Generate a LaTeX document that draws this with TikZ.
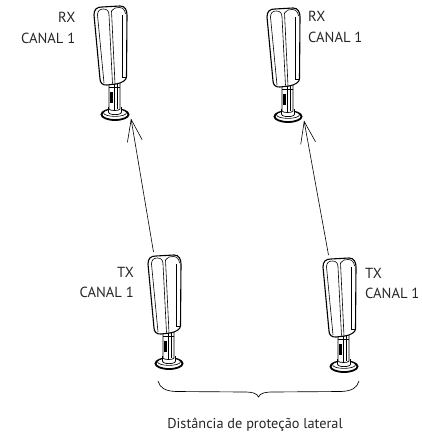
\documentclass[tikz,border=0pt]{standalone}
\usepackage{fontspec}
\setmainfont{PT Sans}
\usetikzlibrary{arrows.meta}
\tikzset{
  sensor/.pic={
    % base
    \draw[line width=1.8pt, fill=white] (21,108.5) ellipse[x radius=13.5, y radius=5.5];
    \draw[line width=0.6pt, fill=white] (21,106.8) ellipse[x radius=11.5, y radius=3.6];
    % collar
    \draw[line width=0.7pt, fill=white] (14.5,101) -- (14.5,106) .. controls (14.5,109.5) and (27.5,109.5) .. (27.5,106) -- (27.5,101);
    % pole
    \draw[line width=0.7pt, fill=white] (15,76) -- (15,103) .. controls (15,105) and (26,105) .. (26,103) -- (26,76);
    \draw[line width=0.55pt] (20.5,78) -- (20.5,103.5);
    \draw[line width=0.55pt] (23.5,78) -- (23.5,103);
    \fill (16,86) rectangle (18.8,97);
    \draw[line width=0.55pt] (15,81) -- (26,81);
    % housing
    \draw[line width=1.1pt, fill=white] (0,9) .. controls (0,3) and (3,1) .. (8,1) -- (26,0)
      .. controls (31,0) and (33,4) .. (33,9) -- (32.5,71)
      .. controls (32.5,74) and (28,77) .. (22,78) -- (13,79)
      .. controls (9,79.5) and (6,77) .. (6,73) -- cycle;
    \draw[line width=0.6pt] (3.5,9) .. controls (3.5,4.5) and (6,3) .. (9.5,3)
      .. controls (13,3) and (15,5) .. (15,9);
    \draw[line width=0.6pt] (3.5,9) -- (10,77);
    \draw[line width=0.6pt] (15,9) -- (18.5,77.5);
    \draw[line width=0.6pt] (17.5,5) -- (21,78);
    \draw[line width=0.6pt] (17.5,5) .. controls (19,2) and (22,1.5) .. (25,1.5)
      .. controls (29,1.5) and (31,4) .. (31.5,8);
    \draw[line width=0.6pt] (28.5,9) -- (28.5,71) -- (32.5,71);
    \coordinate (-top) at (5.5,-3);
    \coordinate (-aim) at (37,112.5);
  },
  lbl/.style={font=\fontsize{14.6}{20.5}\selectfont, inner sep=0pt, text=black!85},
  ray/.style={line width=0.6pt, -{Straight Barb[length=22pt,width=15pt,line width=0.6pt]}}
}
\begin{document}
\begin{tikzpicture}[x=1pt,y=-1pt]
  \useasboundingbox (0,0) rectangle (422,439);
  \pic (rxl) at (94,6) {sensor};
  \pic (rxr) at (267,8) {sensor};
  \pic (txl) at (148,255) {sensor};
  \pic (txr) at (323,258) {sensor};

  \node[lbl, align=right, anchor=base east] (lrxl) at (75.5,43) {RX\\CANAL 1};
  \node[lbl, align=left, anchor=base west] (lrxr) at (308,42) {RX\\CANAL 1};
  \node[lbl, align=right, anchor=base east] (ltxl) at (134,297.5) {TX\\CANAL 1};
  \node[lbl, align=left, anchor=base west] (ltxr) at (365,298.5) {TX\\CANAL 1};

  \draw[ray] (txl-top) -- (rxl-aim);
  \draw[ray] (txr-top) -- (rxr-aim);

  \draw[line width=0.65pt] (158,381) .. controls (160,388) and (165,391) .. (176,391.5) -- (244,392)
    .. controls (252,392) and (257,393) .. (258.5,397)
    .. controls (260,393) and (265,392) .. (273,392) -- (341,391.5)
    .. controls (352,391) and (357,388) .. (359,381);

  \node[lbl, font=\fontsize{14.3}{20}\selectfont, anchor=base] (dist) at (255,428) {Distância de proteção lateral};
\end{tikzpicture}
\end{document}
